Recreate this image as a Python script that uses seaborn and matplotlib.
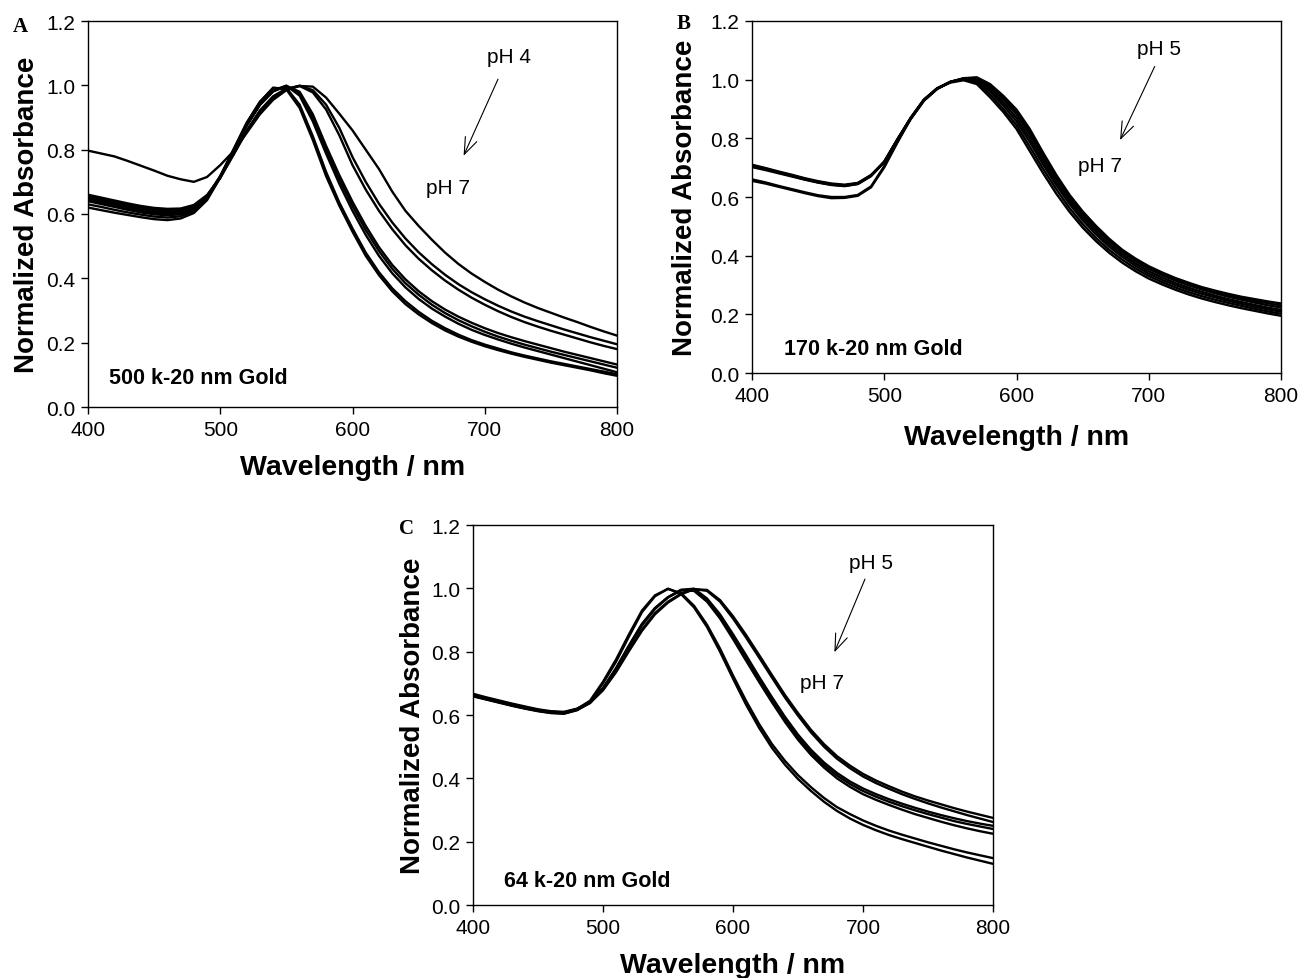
import numpy as np
import pandas as pd
import matplotlib
matplotlib.use("Agg")
import matplotlib.pyplot as plt
import seaborn as sns

sns.set_style("ticks")
plt.rcParams['font.family'] = ['Liberation Sans', 'DejaVu Sans']
plt.rcParams['text.color'] = 'black'
plt.rcParams['axes.labelcolor'] = 'black'
plt.rcParams['xtick.color'] = 'black'
plt.rcParams['ytick.color'] = 'black'
plt.rcParams['axes.edgecolor'] = 'black'

# ---------------- data ----------------
wavelength = [400, 410, 420, 430, 440, 450, 460, 470, 480, 490,
              500, 510, 520, 530, 540, 550, 560, 570, 580, 590,
              600, 610, 620, 630, 640, 650, 660, 670, 680, 690,
              700, 710, 720, 730, 740, 750, 760, 770, 780, 790, 800]

# Panel A: 500 k-20 nm Gold
A1 = [0.620, 0.612, 0.604, 0.597, 0.590, 0.584, 0.581, 0.586, 0.603, 0.643,
      0.713, 0.798, 0.882, 0.948, 0.993, 0.987, 0.930, 0.830, 0.718, 0.626,
      0.545, 0.470, 0.410, 0.360, 0.320, 0.288, 0.261, 0.238, 0.219, 0.203,
      0.189, 0.177, 0.166, 0.156, 0.147, 0.138, 0.130, 0.122, 0.114, 0.105, 0.097]
A2 = [0.630, 0.622, 0.613, 0.605, 0.598, 0.592, 0.589, 0.593, 0.609, 0.648,
      0.717, 0.801, 0.884, 0.949, 0.991, 0.992, 0.940, 0.842, 0.731, 0.636,
      0.555, 0.480, 0.419, 0.369, 0.329, 0.296, 0.268, 0.245, 0.225, 0.208,
      0.194, 0.182, 0.170, 0.160, 0.151, 0.142, 0.134, 0.126, 0.118, 0.110, 0.102]
A3 = [0.640, 0.631, 0.622, 0.613, 0.605, 0.599, 0.596, 0.599, 0.614, 0.650,
      0.715, 0.795, 0.876, 0.941, 0.984, 0.999, 0.968, 0.888, 0.788, 0.694,
      0.610, 0.535, 0.470, 0.416, 0.372, 0.336, 0.306, 0.281, 0.259, 0.240,
      0.224, 0.210, 0.197, 0.185, 0.174, 0.163, 0.152, 0.141, 0.130, 0.119, 0.108]
A4 = [0.645, 0.636, 0.627, 0.618, 0.610, 0.604, 0.601, 0.604, 0.618, 0.653,
      0.717, 0.796, 0.876, 0.940, 0.982, 0.998, 0.975, 0.900, 0.800, 0.708,
      0.625, 0.550, 0.485, 0.430, 0.385, 0.349, 0.318, 0.292, 0.270, 0.251,
      0.234, 0.219, 0.206, 0.194, 0.183, 0.172, 0.162, 0.152, 0.142, 0.132, 0.122]
A5 = [0.650, 0.641, 0.632, 0.623, 0.615, 0.609, 0.606, 0.608, 0.621, 0.655,
      0.718, 0.796, 0.875, 0.939, 0.981, 0.998, 0.980, 0.910, 0.812, 0.721,
      0.638, 0.563, 0.497, 0.442, 0.397, 0.360, 0.329, 0.303, 0.281, 0.262,
      0.245, 0.230, 0.217, 0.205, 0.194, 0.183, 0.172, 0.162, 0.152, 0.142, 0.132]
A6 = [0.655, 0.646, 0.637, 0.628, 0.620, 0.614, 0.611, 0.612, 0.624, 0.656,
      0.712, 0.785, 0.860, 0.922, 0.966, 0.990, 0.998, 0.978, 0.925, 0.845,
      0.752, 0.676, 0.610, 0.553, 0.503, 0.461, 0.425, 0.393, 0.365, 0.340,
      0.318, 0.298, 0.280, 0.264, 0.250, 0.237, 0.225, 0.213, 0.201, 0.190, 0.180]
A7 = [0.660, 0.651, 0.642, 0.633, 0.625, 0.619, 0.616, 0.617, 0.628, 0.659,
      0.713, 0.784, 0.857, 0.918, 0.962, 0.988, 0.999, 0.985, 0.940, 0.868,
      0.777, 0.700, 0.632, 0.574, 0.524, 0.481, 0.444, 0.411, 0.382, 0.357,
      0.335, 0.315, 0.297, 0.281, 0.267, 0.254, 0.241, 0.229, 0.217, 0.206, 0.195]
A8 = [0.797, 0.788, 0.779, 0.765, 0.750, 0.735, 0.719, 0.708, 0.700, 0.715,
      0.752, 0.795, 0.852, 0.910, 0.955, 0.985, 0.998, 0.996, 0.962, 0.912,
      0.860, 0.800, 0.740, 0.670, 0.610, 0.563, 0.520, 0.480, 0.445, 0.415,
      0.389, 0.365, 0.344, 0.325, 0.308, 0.293, 0.278, 0.264, 0.249, 0.235, 0.222]

# Panel B: 170 k-20 nm Gold
B1 = [0.705, 0.695, 0.683, 0.672, 0.660, 0.650, 0.642, 0.638, 0.645, 0.672,
      0.718, 0.796, 0.870, 0.932, 0.970, 0.990, 0.998, 0.985, 0.940, 0.890,
      0.832, 0.757, 0.682, 0.612, 0.550, 0.496, 0.450, 0.410, 0.376, 0.347,
      0.322, 0.302, 0.284, 0.268, 0.254, 0.242, 0.231, 0.221, 0.212, 0.203, 0.195]
B2 = [0.708, 0.697, 0.685, 0.674, 0.662, 0.652, 0.644, 0.640, 0.647, 0.674,
      0.719, 0.797, 0.870, 0.932, 0.971, 0.992, 1.000, 0.990, 0.950, 0.900,
      0.845, 0.772, 0.697, 0.627, 0.563, 0.508, 0.461, 0.420, 0.386, 0.356,
      0.331, 0.310, 0.292, 0.276, 0.262, 0.250, 0.239, 0.229, 0.219, 0.210, 0.202]
B3 = [0.660, 0.650, 0.638, 0.627, 0.616, 0.606, 0.600, 0.600, 0.607, 0.636,
      0.705, 0.790, 0.869, 0.931, 0.970, 0.992, 1.002, 0.995, 0.960, 0.912,
      0.858, 0.788, 0.712, 0.641, 0.577, 0.521, 0.473, 0.431, 0.396, 0.365,
      0.339, 0.318, 0.300, 0.284, 0.270, 0.258, 0.246, 0.236, 0.226, 0.217, 0.209]
B4 = [0.702, 0.692, 0.681, 0.670, 0.659, 0.649, 0.641, 0.637, 0.644, 0.671,
      0.721, 0.797, 0.868, 0.930, 0.970, 0.993, 1.003, 0.999, 0.968, 0.922,
      0.870, 0.801, 0.724, 0.652, 0.587, 0.531, 0.482, 0.440, 0.404, 0.373,
      0.347, 0.326, 0.307, 0.291, 0.277, 0.264, 0.252, 0.242, 0.232, 0.223, 0.215]
B5 = [0.710, 0.699, 0.687, 0.676, 0.664, 0.654, 0.646, 0.642, 0.648, 0.675,
      0.720, 0.796, 0.867, 0.929, 0.969, 0.993, 1.004, 1.003, 0.975, 0.932,
      0.882, 0.814, 0.736, 0.663, 0.597, 0.540, 0.491, 0.449, 0.412, 0.381,
      0.355, 0.334, 0.315, 0.299, 0.285, 0.272, 0.260, 0.250, 0.240, 0.231, 0.223]
B6 = [0.655, 0.646, 0.635, 0.624, 0.613, 0.603, 0.596, 0.597, 0.604, 0.633,
      0.701, 0.786, 0.866, 0.930, 0.969, 0.992, 1.004, 1.006, 0.980, 0.939,
      0.890, 0.823, 0.744, 0.670, 0.603, 0.546, 0.497, 0.454, 0.417, 0.386,
      0.360, 0.339, 0.320, 0.304, 0.290, 0.277, 0.265, 0.255, 0.246, 0.238, 0.230]
B7 = [0.706, 0.696, 0.684, 0.673, 0.661, 0.651, 0.643, 0.639, 0.646, 0.673,
      0.720, 0.795, 0.866, 0.928, 0.968, 0.992, 1.005, 1.008, 0.985, 0.945,
      0.898, 0.832, 0.752, 0.676, 0.608, 0.551, 0.502, 0.458, 0.420, 0.390,
      0.364, 0.343, 0.324, 0.308, 0.293, 0.281, 0.270, 0.260, 0.252, 0.244, 0.237]

# Panel C: 64 k-20 nm Gold
C1 = [0.664, 0.654, 0.644, 0.634, 0.624, 0.616, 0.610, 0.608, 0.619, 0.645,
      0.705, 0.775, 0.855, 0.930, 0.978, 0.998, 0.985, 0.945, 0.885, 0.810,
      0.725, 0.645, 0.572, 0.508, 0.455, 0.410, 0.372, 0.338, 0.309, 0.287,
      0.267, 0.250, 0.235, 0.222, 0.210, 0.198, 0.187, 0.176, 0.166, 0.157, 0.148]
C2 = [0.660, 0.650, 0.640, 0.630, 0.621, 0.613, 0.607, 0.605, 0.616, 0.641,
      0.700, 0.768, 0.848, 0.925, 0.975, 0.999, 0.982, 0.940, 0.878, 0.800,
      0.715, 0.633, 0.560, 0.496, 0.443, 0.398, 0.360, 0.326, 0.297, 0.273,
      0.253, 0.236, 0.221, 0.208, 0.196, 0.184, 0.172, 0.161, 0.150, 0.140, 0.130]
C3 = [0.662, 0.652, 0.642, 0.632, 0.623, 0.615, 0.609, 0.607, 0.618, 0.640,
      0.685, 0.748, 0.820, 0.888, 0.938, 0.972, 0.993, 0.992, 0.958, 0.905,
      0.840, 0.772, 0.705, 0.640, 0.578, 0.522, 0.474, 0.434, 0.400, 0.373,
      0.350, 0.332, 0.316, 0.301, 0.287, 0.275, 0.263, 0.252, 0.242, 0.233, 0.225]
C4 = [0.667, 0.656, 0.646, 0.636, 0.627, 0.618, 0.612, 0.610, 0.620, 0.641,
      0.684, 0.746, 0.818, 0.886, 0.937, 0.972, 0.995, 0.996, 0.963, 0.912,
      0.848, 0.781, 0.713, 0.648, 0.586, 0.530, 0.482, 0.442, 0.409, 0.382,
      0.360, 0.342, 0.326, 0.312, 0.299, 0.287, 0.276, 0.265, 0.256, 0.248, 0.240]
C5 = [0.659, 0.649, 0.639, 0.629, 0.620, 0.612, 0.606, 0.604, 0.615, 0.638,
      0.683, 0.744, 0.815, 0.883, 0.935, 0.971, 0.995, 0.999, 0.968, 0.918,
      0.855, 0.789, 0.721, 0.656, 0.594, 0.538, 0.490, 0.450, 0.417, 0.390,
      0.368, 0.350, 0.334, 0.320, 0.307, 0.295, 0.284, 0.274, 0.265, 0.257, 0.250]
C6 = [0.663, 0.653, 0.643, 0.633, 0.624, 0.616, 0.610, 0.608, 0.618, 0.639,
      0.680, 0.738, 0.805, 0.870, 0.922, 0.958, 0.983, 0.998, 0.992, 0.958,
      0.905, 0.845, 0.782, 0.718, 0.655, 0.598, 0.545, 0.500, 0.462, 0.432,
      0.406, 0.385, 0.367, 0.350, 0.335, 0.321, 0.308, 0.296, 0.284, 0.273, 0.262]
C7 = [0.661, 0.651, 0.641, 0.631, 0.622, 0.614, 0.608, 0.606, 0.617, 0.638,
      0.678, 0.735, 0.802, 0.866, 0.918, 0.955, 0.981, 0.997, 0.995, 0.963,
      0.912, 0.853, 0.790, 0.726, 0.663, 0.606, 0.553, 0.508, 0.470, 0.440,
      0.414, 0.393, 0.375, 0.358, 0.343, 0.330, 0.318, 0.306, 0.295, 0.285, 0.275]

x_ticks = [400, 500, 600, 700, 800]
y_ticks = [0.0, 0.2, 0.4, 0.6, 0.8, 1.0, 1.2]
y_tick_labels = ["0.0", "0.2", "0.4", "0.6", "0.8", "1.0", "1.2"]

panels = {
    "A": {"curves": [A1, A2, A3, A4, A5, A6, A7, A8], "title": "500 k-20 nm Gold",
          "top": "pH 4"},
    "B": {"curves": [B1, B2, B3, B4, B5, B6, B7], "title": "170 k-20 nm Gold",
          "top": "pH 5"},
    "C": {"curves": [C1, C2, C3, C4, C5, C6, C7], "title": "64 k-20 nm Gold",
          "top": "pH 5"},
}


def to_long(curves):
    frames = []
    for i, vals in enumerate(curves):
        frames.append(pd.DataFrame({"wl": wavelength, "absb": vals, "curve": i}))
    return pd.concat(frames, ignore_index=True)


W, H = 1301, 979
fig = plt.figure(figsize=(W / 100, H / 100), dpi=100)


def px_axes(left, top, right, bottom):
    return fig.add_axes([left / W, 1 - bottom / H, (right - left) / W, (bottom - top) / H])


axes = {
    "A": px_axes(88, 22, 617, 408),
    "B": px_axes(752, 22, 1281, 374),
    "C": px_axes(473, 526, 993, 906),
}

layout = {
    "A": dict(top=(718, 1.091), a0=(710, 1.019), a1=(684, 0.781), low=(672, 0.683),
              tt=(416, 0.093), xl=-0.155, yl=-0.115, letter=(20, 27)),
    "B": dict(top=(708, 1.107), a0=(704.5, 1.045), a1=(678.3, 0.794), low=(663, 0.709),
              tt=(424, 0.083), xl=-0.182, yl=-0.127, letter=(684, 24)),
    "C": dict(top=(706, 1.082), a0=(701.5, 1.029), a1=(678, 0.798), low=(668.6, 0.703),
              tt=(424, 0.077), xl=-0.158, yl=-0.115, letter=(407, 529)),
}

for key, ax in axes.items():
    p = panels[key]
    L = layout[key]
    df = to_long(p["curves"])
    sns.lineplot(data=df, x="wl", y="absb", units="curve", estimator=None,
                 color="black", lw=1.7, ax=ax, legend=False)
    ax.set_xlim(400, 800)
    ax.set_ylim(0, 1.2)
    ax.set_xticks(x_ticks)
    ax.set_xticklabels([str(t) for t in x_ticks])
    ax.set_yticks(y_ticks)
    ax.set_yticklabels(y_tick_labels)
    ax.tick_params(labelsize=15, direction="out", length=5, width=1,
                   colors="black", pad=4)
    for s in ax.spines.values():
        s.set_color("black")
        s.set_linewidth(1.0)
        s.set_visible(True)
    ax.set_xlabel("Wavelength / nm", fontsize=20.5, fontweight="bold", color="black")
    ax.set_ylabel("Normalized Absorbance", fontsize=20, fontweight="bold", color="black")
    ax.xaxis.label.set_va("center")
    ax.yaxis.label.set_va("center")
    ax.xaxis.set_label_coords(0.5, L["xl"])
    ax.yaxis.set_label_coords(L["yl"], 0.5)
    ax.text(L["top"][0], L["top"][1], p["top"], fontsize=15, ha="center",
            va="center", color="black")
    ax.text(L["low"][0], L["low"][1], "pH 7", fontsize=15, ha="center",
            va="center", color="black")
    ax.annotate("", xy=L["a1"], xytext=L["a0"],
                arrowprops=dict(arrowstyle="->,head_length=1.2,head_width=0.45",
                                lw=0.8, color="black", shrinkA=0, shrinkB=0))
    ax.text(L["tt"][0], L["tt"][1], p["title"], fontsize=15.5, fontweight="bold",
            ha="left", va="center", color="black")
    fig.text(L["letter"][0] / W, 1 - L["letter"][1] / H, key,
             family=["Liberation Serif", "DejaVu Serif"], fontweight="bold",
             fontsize=15, ha="center", va="center", color="black")

fig.savefig("out.png", dpi=100, facecolor="white")
